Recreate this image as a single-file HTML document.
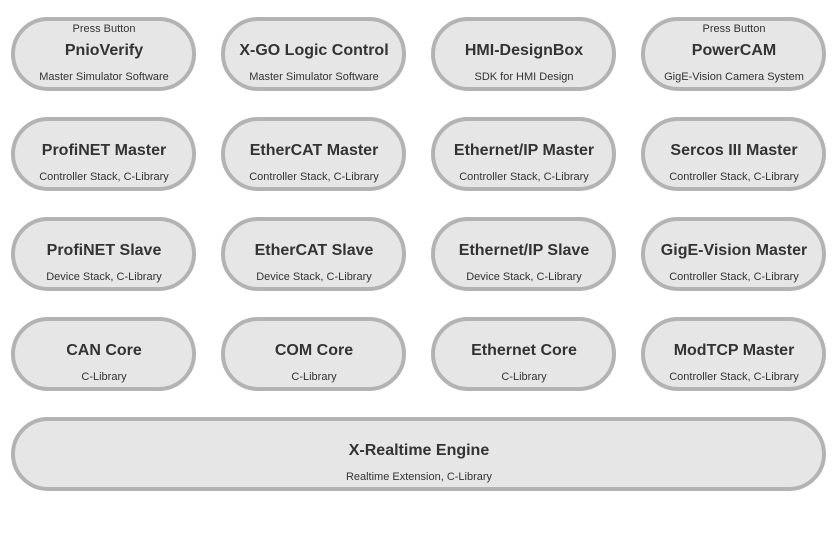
<!DOCTYPE html>
<html><head><meta charset="utf-8"><style>
body{margin:0;background:#fff;}
svg text{font-family:"Liberation Sans",Arial,sans-serif;fill:#333;text-anchor:middle;}
.t{font-size:16px;font-weight:bold;}
.s{font-size:11px;}
</style></head><body>
<svg width="838" height="543" xmlns="http://www.w3.org/2000/svg">
<g fill="#e6e6e6" stroke="#b3b3b3" stroke-width="4">
<rect x="13" y="19" width="181" height="70" rx="35"/>
<rect x="223" y="19" width="181" height="70" rx="35"/>
<rect x="433" y="19" width="181" height="70" rx="35"/>
<rect x="643" y="19" width="181" height="70" rx="35"/>
<rect x="13" y="119" width="181" height="70" rx="35"/>
<rect x="223" y="119" width="181" height="70" rx="35"/>
<rect x="433" y="119" width="181" height="70" rx="35"/>
<rect x="643" y="119" width="181" height="70" rx="35"/>
<rect x="13" y="219" width="181" height="70" rx="35"/>
<rect x="223" y="219" width="181" height="70" rx="35"/>
<rect x="433" y="219" width="181" height="70" rx="35"/>
<rect x="643" y="219" width="181" height="70" rx="35"/>
<rect x="13" y="319" width="181" height="70" rx="35"/>
<rect x="223" y="319" width="181" height="70" rx="35"/>
<rect x="433" y="319" width="181" height="70" rx="35"/>
<rect x="643" y="319" width="181" height="70" rx="35"/>
<rect x="13" y="419" width="811" height="70" rx="35"/>
</g>
<text class="s" x="104" y="32">Press Button</text>
<text class="s" x="734" y="32">Press Button</text>
<text class="t" x="104" y="55">PnioVerify</text>
<text class="t" x="314" y="55">X-GO Logic Control</text>
<text class="t" x="524" y="55">HMI-DesignBox</text>
<text class="t" x="734" y="55">PowerCAM</text>
<text class="s" x="104" y="80">Master Simulator Software</text>
<text class="s" x="314" y="80">Master Simulator Software</text>
<text class="s" x="524" y="80">SDK for HMI Design</text>
<text class="s" x="734" y="80">GigE-Vision Camera System</text>
<text class="t" x="104" y="155">ProfiNET Master</text>
<text class="t" x="314" y="155">EtherCAT Master</text>
<text class="t" x="524" y="155">Ethernet/IP Master</text>
<text class="t" x="734" y="155">Sercos III Master</text>
<text class="s" x="104" y="180">Controller Stack, C-Library</text>
<text class="s" x="314" y="180">Controller Stack, C-Library</text>
<text class="s" x="524" y="180">Controller Stack, C-Library</text>
<text class="s" x="734" y="180">Controller Stack, C-Library</text>
<text class="t" x="104" y="255">ProfiNET Slave</text>
<text class="t" x="314" y="255">EtherCAT Slave</text>
<text class="t" x="524" y="255">Ethernet/IP Slave</text>
<text class="t" x="734" y="255">GigE-Vision Master</text>
<text class="s" x="104" y="280">Device Stack, C-Library</text>
<text class="s" x="314" y="280">Device Stack, C-Library</text>
<text class="s" x="524" y="280">Device Stack, C-Library</text>
<text class="s" x="734" y="280">Controller Stack, C-Library</text>
<text class="t" x="104" y="355">CAN Core</text>
<text class="t" x="314" y="355">COM Core</text>
<text class="t" x="524" y="355">Ethernet Core</text>
<text class="t" x="734" y="355">ModTCP Master</text>
<text class="s" x="104" y="380">C-Library</text>
<text class="s" x="314" y="380">C-Library</text>
<text class="s" x="524" y="380">C-Library</text>
<text class="s" x="734" y="380">Controller Stack, C-Library</text>
<text class="t" x="419" y="455">X-Realtime Engine</text>
<text class="s" x="419" y="480">Realtime Extension, C-Library</text>
</svg>
</body></html>
